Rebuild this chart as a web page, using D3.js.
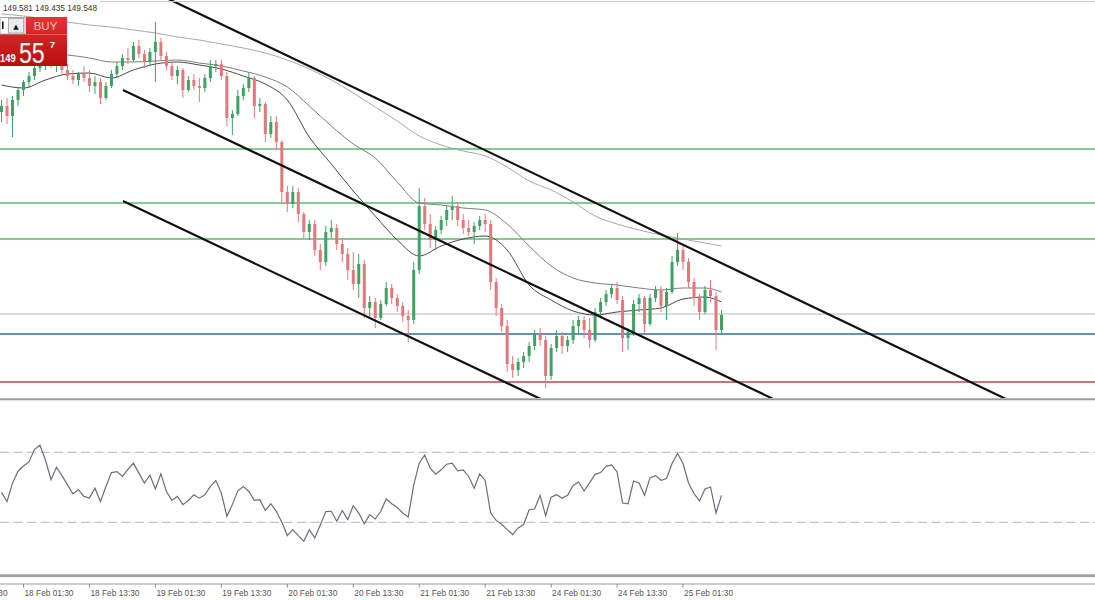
<!DOCTYPE html>
<html><head><meta charset="utf-8">
<script src="https://cdn.jsdelivr.net/npm/d3@7"></script>
<style>body{margin:0;background:#fff}svg{display:block}</style>
</head><body>
<script>
// ---------- data ----------
const open=[151.58,151.64,151.54,151.70,151.80,151.88,151.94,152.02,152.06,152.08,152.04,152.06,152.00,151.94,151.90,151.96,151.92,151.84,151.88,151.72,151.84,151.96,152.04,152.12,152.10,152.24,152.16,152.08,152.18,152.28,152.14,152.04,151.94,152.00,151.80,151.90,151.84,151.82,151.92,152.04,152.06,151.94,151.52,151.56,151.74,151.82,151.92,151.64,151.66,151.36,151.48,151.28,150.78,150.66,150.78,150.56,150.38,150.46,150.20,150.08,150.38,150.42,150.26,150.16,150.00,149.86,150.06,149.62,149.68,149.52,149.66,149.82,149.72,149.64,149.54,149.50,150.00,150.64,150.46,150.30,150.40,150.50,150.60,150.64,150.50,150.42,150.38,150.44,150.50,150.46,149.88,149.62,149.44,149.06,149.00,149.08,149.14,149.24,149.36,149.30,148.94,149.22,149.34,149.24,149.30,149.44,149.50,149.40,149.30,149.58,149.68,149.76,149.82,149.70,149.32,149.38,149.66,149.72,149.46,149.72,149.80,149.64,149.78,150.08,150.20,150.08,149.88,149.72,149.58,149.80,149.74,149.40];
const high=[151.70,151.72,151.74,151.82,151.90,151.98,152.06,152.10,152.12,152.14,152.10,152.10,152.06,152.00,151.98,152.04,152.00,151.94,151.92,151.88,152.00,152.08,152.16,152.22,152.28,152.30,152.20,152.22,152.48,152.32,152.18,152.08,152.04,152.02,151.94,151.96,151.92,151.96,152.10,152.10,152.10,151.98,151.60,151.80,151.86,151.98,151.94,151.72,151.68,151.54,151.54,151.30,150.84,150.84,150.82,150.58,150.50,150.50,150.26,150.44,150.50,150.46,150.32,150.22,150.18,150.16,150.10,149.74,149.72,149.70,149.88,149.86,149.76,149.68,149.60,150.08,150.82,150.72,150.56,150.44,150.54,150.64,150.74,150.68,150.56,150.50,150.48,150.54,150.56,150.50,149.92,149.66,149.50,149.14,149.12,149.18,149.28,149.40,149.42,149.34,149.26,149.40,149.38,149.34,149.50,149.54,149.54,149.52,149.62,149.72,149.80,149.86,149.88,149.74,149.42,149.70,149.76,149.74,149.76,149.84,149.84,149.82,150.14,150.37,150.24,150.12,149.92,149.76,149.84,149.90,149.78,149.60];
const low=[151.48,151.46,151.33,151.64,151.74,151.82,151.90,151.98,152.00,152.02,151.98,151.96,151.90,151.86,151.84,151.88,151.78,151.76,151.66,151.70,151.82,151.92,152.00,152.06,152.08,152.12,152.02,152.04,151.88,152.10,152.00,151.90,151.86,151.72,151.78,151.80,151.68,151.78,151.88,151.98,151.90,151.44,151.35,151.54,151.70,151.78,151.52,151.58,151.28,151.32,151.20,150.68,150.58,150.62,150.48,150.32,150.30,150.14,150.00,150.04,150.32,150.20,150.08,149.90,149.80,149.72,149.52,149.52,149.42,149.50,149.64,149.66,149.58,149.48,149.28,149.46,149.96,150.40,150.22,150.20,150.36,150.44,150.50,150.44,150.36,150.34,150.26,150.40,150.38,149.80,149.54,149.38,148.98,148.92,148.94,149.02,149.08,149.20,149.24,148.82,148.90,149.18,149.16,149.18,149.26,149.36,149.32,149.22,149.28,149.54,149.64,149.72,149.66,149.18,149.20,149.34,149.58,149.36,149.44,149.68,149.58,149.50,149.76,150.04,150.00,149.82,149.64,149.50,149.56,149.68,149.20,149.36];
const close=[151.64,151.54,151.70,151.80,151.88,151.94,152.02,152.06,152.08,152.04,152.06,152.00,151.94,151.90,151.96,151.92,151.84,151.88,151.72,151.84,151.96,152.04,152.12,152.10,152.24,152.16,152.08,152.18,152.28,152.14,152.04,151.94,152.00,151.80,151.90,151.84,151.82,151.92,152.04,152.06,151.94,151.52,151.56,151.74,151.82,151.92,151.64,151.66,151.36,151.48,151.28,150.78,150.66,150.78,150.56,150.38,150.46,150.20,150.08,150.38,150.42,150.26,150.16,150.00,149.86,150.06,149.62,149.68,149.52,149.66,149.82,149.72,149.64,149.54,149.50,150.00,150.64,150.46,150.30,150.40,150.50,150.60,150.64,150.50,150.42,150.38,150.44,150.50,150.46,149.88,149.62,149.44,149.06,149.00,149.08,149.14,149.24,149.36,149.30,148.94,149.22,149.34,149.24,149.30,149.44,149.50,149.40,149.30,149.58,149.68,149.76,149.82,149.70,149.32,149.38,149.66,149.72,149.46,149.72,149.80,149.64,149.78,150.08,150.20,150.08,149.88,149.72,149.58,149.80,149.74,149.40,149.55];

// moving averages, sampled at these bar indices
const maIdx=[0,4,8,12,16,20,24,28,32,36,40,44,48,52,56,60,64,68,72,76,80,84,88,92,96,100,104,108,112,116,120,124,128,131];
const maSlow=[152.56,152.54,152.51,152.48,152.45,152.43,152.40,152.37,152.33,152.30,152.26,152.22,152.17,152.10,152.01,151.90,151.77,151.63,151.49,151.34,151.25,151.19,151.14,151.03,150.89,150.80,150.68,150.54,150.46,150.40,150.35,150.31,150.27,150.24];
const maMid=[152.20,152.18,152.16,152.15,152.12,152.08,152.08,152.09,152.10,152.07,152.04,151.99,151.93,151.83,151.64,151.44,151.26,151.12,150.88,150.67,150.65,150.62,150.60,150.46,150.24,150.04,149.92,149.87,149.85,149.82,149.80,149.82,149.82,149.78];
const maFast=[151.85,151.82,151.90,151.96,151.97,151.92,152.00,152.06,152.08,152.05,152.01,151.94,151.86,151.70,151.33,151.06,150.79,150.54,150.30,150.14,150.24,150.31,150.34,150.20,149.85,149.70,149.59,149.55,149.58,149.60,149.62,149.71,149.73,149.68];

const rsi=[47.1,41.9,52.4,59.2,62.2,64.5,71.7,74.0,65.6,54.3,61.5,56.7,51.4,46.3,48.6,44.8,43.8,49.5,41.9,50.5,58.4,59.0,56.2,60.3,63.8,58.1,52.4,56.9,49.0,57.7,47.6,42.5,44.8,40.1,42.5,45.7,43.8,45.7,50.5,53.9,46.7,33.4,40.1,48.0,50.5,47.6,42.5,42.9,36.8,40.6,36.3,30.0,22.4,25.8,22.4,19.2,25.8,21.1,28.5,36.1,36.3,30.6,36.8,31.5,39.5,35.3,29.1,34.4,31.9,36.3,43.3,40.6,38.5,35.3,33.0,51.4,63.8,68.5,60.9,57.5,60.0,63.2,63.8,59.4,60.0,56.2,49.5,57.7,53.9,35.3,31.1,28.9,25.8,23.0,26.8,28.7,37.2,37.6,45.4,33.9,44.4,45.8,43.7,45.4,51.1,53.0,47.9,52.5,57.4,58.4,62.0,62.8,58.8,41.0,40.6,53.6,52.5,45.4,55.5,56.7,54.0,55.0,63.6,69.3,63.6,52.5,46.4,42.2,49.0,50.2,35.3,45.4];
const rsiLevels=[70,30];

const greenLevels=[151.21,150.67,150.31];
const grayLevel=[149.56];
const blueLevel=[149.36];
const redLevel=[148.88];

const upperLine=[[30,152.72],[190,148.52]];
const middleLine=[[22.1,151.80],[150,148.46]];
const lowerLine=[[22.1,150.69],[110,148.40]];

const tickIdx=[-8,4,16,28,40,52,64,76,88,100,112,124];
const tickLabels=["17 Feb 13:30","18 Feb 01:30","18 Feb 13:30","19 Feb 01:30","19 Feb 13:30","20 Feb 01:30","20 Feb 13:30","21 Feb 01:30","21 Feb 13:30","24 Feb 01:30","24 Feb 13:30","25 Feb 01:30"];
const headerValues=["149.581","149.435","149.548"];
const buyPrice=["149","55","7"];

// ---------- chart ----------
const W=1095,H=600;
const svg=d3.select("body").append("svg").attr("width",W).attr("height",H);
svg.append("rect").attr("width",W).attr("height",H).attr("fill","#fff");

const x=d3.scaleLinear().domain([0,131]).range([1.52,721.5]);
const y=d3.scaleLinear().domain([148.72,152.70]).range([398,0]);
const yr=d3.scaleLinear().domain([30,70]).range([522.3,452.3]);

const defs=svg.append("defs");
defs.append("clipPath").attr("id","mainclip").append("rect").attr("x",0).attr("y",0).attr("width",W).attr("height",398);
const g=defs.append("linearGradient").attr("id","redg").attr("x1",0).attr("y1",0).attr("x2",0).attr("y2",1);
g.append("stop").attr("offset","0%").attr("stop-color","#e23434");
g.append("stop").attr("offset","100%").attr("stop-color","#b80e0e");

const main=svg.append("g").attr("clip-path","url(#mainclip)");

// top border
svg.append("line").attr("x1",100).attr("x2",W).attr("y1",1.5).attr("y2",1.5).attr("stroke","#c8c8c8");

// horizontal levels
const hl=(arr,color,w)=>main.selectAll(null).data(arr).enter().append("line")
  .attr("x1",0).attr("x2",W).attr("y1",d=>y(d)).attr("y2",d=>y(d))
  .attr("stroke",color).attr("stroke-width",w);
hl(greenLevels,"#5cb86a",1.3);
hl(grayLevel,"#b8b8b8",1.1);
hl(blueLevel,"#2e6f9c",1.5);
hl(redLevel,"#b24848",1.3);

// moving averages
const maLine=d3.line().x(d=>x(d[0])).y(d=>y(d[1])).curve(d3.curveMonotoneX);
[[maSlow,"#a8a8a8"],[maMid,"#7c7c7c"],[maFast,"#4a4a4a"]].forEach(([arr,c])=>{
  main.append("path").attr("d",maLine(maIdx.map((k,j)=>[k,arr[j]])))
    .attr("fill","none").attr("stroke",c).attr("stroke-width",1);
});

// candles
const bars=d3.range(open.length).map(i=>({i,o:open[i],h:high[i],l:low[i],c:close[i]}));
const up="#3ea262", dn="#e4777a";
const cg=main.append("g");
cg.selectAll("line").data(bars).enter().append("line")
  .attr("x1",d=>x(d.i)).attr("x2",d=>x(d.i))
  .attr("y1",d=>y(d.h)).attr("y2",d=>y(d.l))
  .attr("stroke",d=>d.c>=d.o?up:dn).attr("stroke-width",1);
cg.selectAll("rect").data(bars).enter().append("rect")
  .attr("x",d=>x(d.i)-1.5).attr("width",3)
  .attr("y",d=>y(Math.max(d.o,d.c)))
  .attr("height",d=>Math.max(1,Math.abs(y(d.o)-y(d.c))))
  .attr("fill",d=>d.c>=d.o?up:dn);

// trend channel lines
const tl=d3.line().x(d=>x(d[0])).y(d=>y(d[1]));
[upperLine,middleLine,lowerLine].forEach(l=>{
  main.append("path").attr("d",tl(l)).attr("stroke","#111").attr("stroke-width",2.2).attr("fill","none");
});

// panel separator
svg.append("rect").attr("x",0).attr("y",398.3).attr("width",W).attr("height",2).attr("fill","#9a9a9a");

// RSI panel
svg.selectAll(null).data(rsiLevels).enter().append("line")
  .attr("x1",0).attr("x2",W).attr("y1",d=>yr(d)).attr("y2",d=>yr(d))
  .attr("stroke","#c2c2cc").attr("stroke-width",1.2).attr("stroke-dasharray","9,4.5");
svg.append("path").attr("d",d3.line().x((d,i)=>x(i)).y(d=>yr(d))(rsi))
  .attr("fill","none").attr("stroke","#6c6c82").attr("stroke-width",1.2);

// bottom separators and time axis
svg.append("rect").attr("x",0).attr("y",574.3).attr("width",W).attr("height",2.8).attr("fill","#a0a0a0");
svg.append("line").attr("x1",0).attr("x2",W).attr("y1",584).attr("y2",584).attr("stroke","#9a9a9a");
const ax=svg.append("g");
ax.selectAll("line").data(tickIdx).enter().append("line")
  .attr("x1",d=>x(d)).attr("x2",d=>x(d)).attr("y1",584).attr("y2",587.5).attr("stroke","#888");
ax.selectAll("text").data(tickIdx).enter().append("text")
  .attr("x",d=>x(d)+1).attr("y",595.5)
  .attr("font-family","Liberation Sans, Arial, sans-serif").attr("font-size",9)
  .attr("textLength",49).attr("lengthAdjust","spacingAndGlyphs")
  .attr("fill","#555").text((d,i)=>tickLabels[i]);

// header values
svg.append("text").attr("x",3).attr("y",10.8)
  .attr("font-family","Liberation Sans, Arial, sans-serif").attr("font-size",9)
  .attr("textLength",94).attr("lengthAdjust","spacingAndGlyphs")
  .attr("fill","#333").text(headerValues.join(" "));

// one-click BUY panel
const bp=svg.append("g");
bp.append("path").attr("d","M26,17H67V66H0V34H26Z").attr("fill","url(#redg)");
bp.append("line").attr("x1",26).attr("x2",67).attr("y1",34.5).attr("y2",34.5).attr("stroke","#e86a6a").attr("stroke-width",0.8);
bp.append("rect").attr("x",0).attr("y",17.5).attr("width",25).attr("height",16.5).attr("fill","#fff").attr("stroke","#a8a8a8");
bp.append("rect").attr("x",8.5).attr("y",18.5).attr("width",15).attr("height",14.5).attr("fill","#ececec").attr("stroke","#b0b0b0");
bp.append("rect").attr("x",2).attr("y",21.5).attr("width",1.6).attr("height",7.5).attr("fill","#111");
bp.append("text").attr("x",16).attr("y",28.5).attr("text-anchor","middle").attr("font-size",7)
  .attr("font-family","DejaVu Sans, sans-serif").attr("fill","#111").text("▲");
bp.append("text").attr("x",45.5).attr("y",30.2).attr("text-anchor","middle")
  .attr("font-family","Liberation Sans, Arial, sans-serif").attr("font-size",11.5)
  .attr("fill","#f9c9c9").text("BUY");
bp.append("text").attr("transform","translate(0,61.8) scale(0.82,1)")
  .attr("font-family","Liberation Sans, Arial, sans-serif").attr("font-size",11.5).attr("font-weight","bold")
  .attr("fill","#fff").text(buyPrice[0]);
bp.append("text").attr("transform","translate(19,62.8) scale(0.77,1)")
  .attr("font-family","Liberation Sans, Arial, sans-serif").attr("font-size",30)
  .attr("fill","#fff").text(buyPrice[1]);
bp.append("text").attr("x",49.8).attr("y",48.3)
  .attr("font-family","Liberation Sans, Arial, sans-serif").attr("font-size",9.5).attr("font-weight","bold")
  .attr("fill","#fff").text(buyPrice[2]);
</script>
</body></html>
